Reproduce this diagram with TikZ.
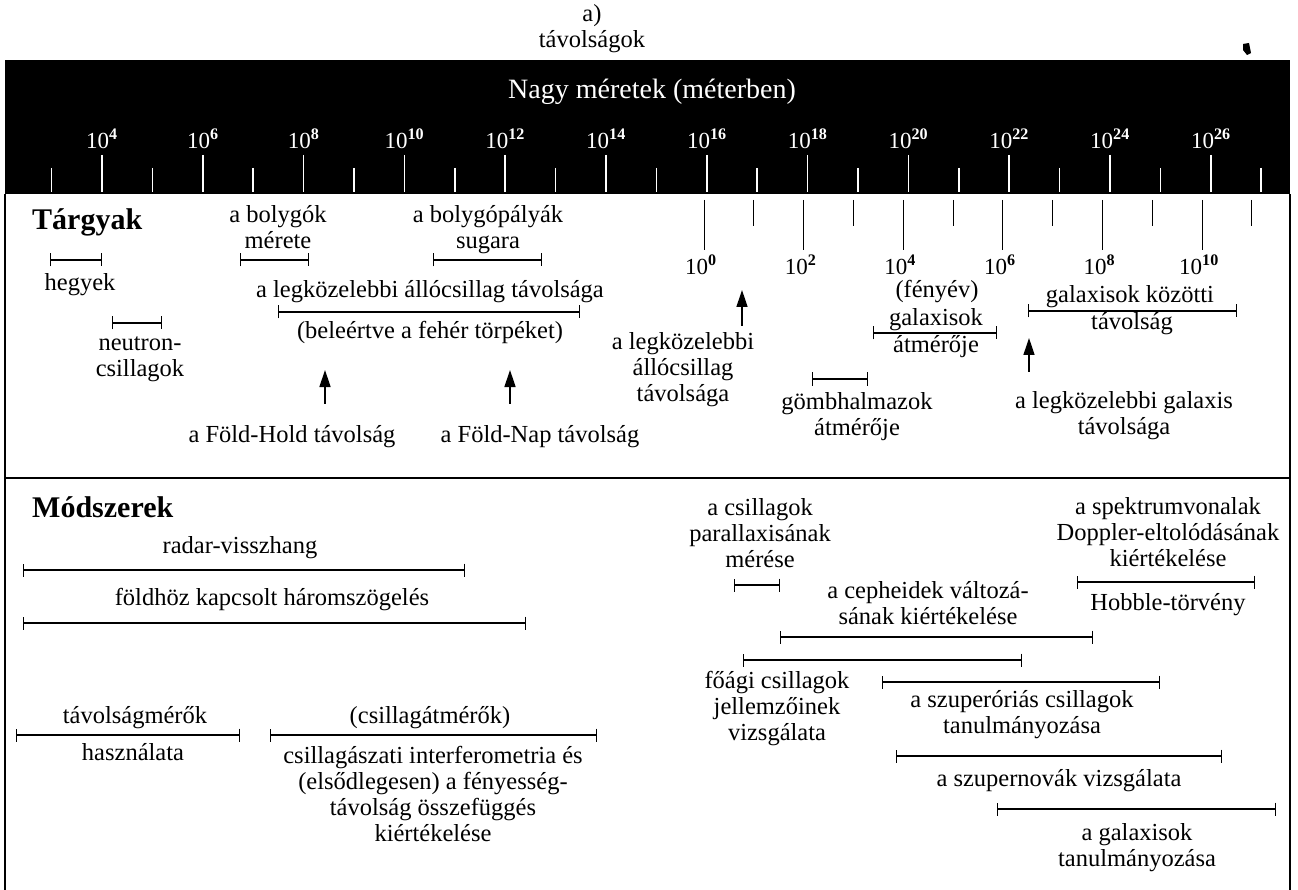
\documentclass[tikz,border=0pt]{standalone}
\usepackage{fontspec}
\setmainfont{Liberation Serif}
\usetikzlibrary{arrows.meta}

\newcommand{\txt}{\fontsize{24.5}{26}\selectfont}
\newcommand{\num}{\fontsize{23}{26}\selectfont}
\newcommand{\hd}{\fontsize{30}{32}\selectfont\bfseries}

\begin{document}
\begin{tikzpicture}[x=1pt,y=-1pt,
    lbl/.style={font=\txt, inner sep=0pt},
    rng/.style={{Bar[width=13pt]}-{Bar[width=13pt]}, line width=1.1pt},
    up/.style={-{Triangle[length=17pt,width=11pt]}, line width=1.4pt}]

    \useasboundingbox (0,0) rectangle (1298,890);

    \node[lbl] (T) at (592,29) {\begin{tabular}{c} a) \\ távolságok \end{tabular}};
    \fill (1243,44) -- (1249,43) -- (1251,53) -- (1247,55) -- (1243,50) -- cycle;

    \fill (5,60) rectangle (1290,194);
    \node[lbl, text=white, font=\fontsize{28}{30}\selectfont] (N) at (652,92) {Nagy méretek (méterben)};
    \foreach \e in {4,6,...,26} {
        \draw[white, line width=1.5pt] ({102+50.4*(\e-4)},155) -- ++(0,37);
        \node[lbl, text=white, font=\num] (M\e) at ({102+50.4*(\e-4)},139) {10\textsuperscript{\textbf{\e}}};
    }
    \foreach \e in {3,5,...,27}
        \draw[white, line width=1.5pt] ({102+50.4*(\e-4)},168) -- ++(0,24);

    \draw[line width=2pt] (5,194) -- (5,890) (1290,194) -- (1290,890);
    \draw[line width=1.5pt] (5,478) -- (1290,478);

    \foreach \n in {0,2,...,10} {
        \draw[line width=1pt] ({704+49.8*\n},200) -- ++(0,50);
        \node[lbl, font=\num] (L\n) at ({701+49.8*\n},265) {10\textsuperscript{\textbf{\n}}};
    }
    \foreach \n in {1,3,...,11}
        \draw[line width=1pt] ({704+49.8*\n},200) -- ++(0,26);
    \node[lbl] (ly) at (937,292) {\begin{tabular}{c}(fényév)\end{tabular}};

    \node[font=\hd, inner sep=0pt, anchor=west] (obj) at (32,222) {Tárgyak};

    \draw[rng] (50,260) -- (102,260);
    \node[lbl] (hegy) at (80,285) {\begin{tabular}{c}hegyek\end{tabular}};
    \draw[rng] (112,323) -- (162,323);
    \node[lbl] (neu) at (140,358) {\begin{tabular}{c}neutron-\\csillagok\end{tabular}};
    \node[lbl] (bolyg) at (278,230) {\begin{tabular}{c}a bolygók\\mérete\end{tabular}};
    \draw[rng] (240,260) -- (309,260);
    \node[lbl] (palya) at (488,230) {\begin{tabular}{c}a bolygópályák\\sugara\end{tabular}};
    \draw[rng] (433,260) -- (542,260);
    \node[lbl] (allo) at (430,292) {\begin{tabular}{c}a legközelebbi állócsillag távolsága\end{tabular}};
    \draw[rng] (278,312) -- (580,312);
    \node[lbl] (feher) at (430,333) {\begin{tabular}{c}(beleértve a fehér törpéket)\end{tabular}};

    \coordinate (hold) at (325,370);
    \node[lbl] (FH) at (292,437) {\begin{tabular}{c}a Föld-Hold távolság\end{tabular}};
    \draw[up] ([yshift=20pt]FH.north -| hold) -- (hold);
    \coordinate (nap) at (510,370);
    \node[lbl] (FN) at (540,437) {\begin{tabular}{c}a Föld-Nap távolság\end{tabular}};
    \draw[up] ([yshift=20pt]FN.north -| nap) -- (nap);
    \coordinate (csill) at (742,290);
    \node[lbl] (LC) at (683,370) {\begin{tabular}{c}a legközelebbi\\állócsillag\\távolsága\end{tabular}};
    \draw[up] ([yshift=5pt]LC.north -| csill) -- (csill);

    \draw[rng] (812,379) -- (868,379);
    \node[lbl] (gomb) at (857,417) {\begin{tabular}{c}gömbhalmazok\\átmérője\end{tabular}};
    \node[lbl] (gal1) at (936,320) {\begin{tabular}{c}galaxisok\end{tabular}};
    \draw[rng] (873,333) -- (997,333);
    \node[lbl] (gal2) at (936,347) {\begin{tabular}{c}átmérője\end{tabular}};
    \node[lbl] (koz1) at (1130,297) {\begin{tabular}{c}galaxisok közötti\end{tabular}};
    \draw[rng] (1028,311) -- (1237,311);
    \node[lbl] (koz2) at (1132,324) {\begin{tabular}{c}távolság\end{tabular}};
    \coordinate (galx) at (1029,338);
    \node[lbl] (LG) at (1124,416) {\begin{tabular}{c}a legközelebbi galaxis\\távolsága\end{tabular}};
    \draw[up] ([yshift=18pt]LG.north -| galx) -- (galx);

    \node[font=\hd, inner sep=0pt, anchor=west] (meth) at (32,507) {Módszerek};

    \node[lbl] (radar) at (240,548) {\begin{tabular}{c}radar-visszhang\end{tabular}};
    \draw[rng] (23,570) -- (465,570);
    \node[lbl] (harom) at (272,600) {\begin{tabular}{c}földhöz kapcsolt háromszögelés\end{tabular}};
    \draw[rng] (23,623) -- (526,623);

    \node[lbl] (tm1) at (135,718) {\begin{tabular}{c}távolságmérők\end{tabular}};
    \draw[rng] (16,735) -- (240,735);
    \node[lbl] (tm2) at (133,755) {\begin{tabular}{c}használata\end{tabular}};
    \node[lbl] (cs1) at (430,718) {\begin{tabular}{c}(csillagátmérők)\end{tabular}};
    \draw[rng] (270,735) -- (597,735);
    \node[lbl] (cs2) at (433,797) {\begin{tabular}{c}csillagászati interferometria és\\(elsődlegesen) a fényesség-\\távolság összefüggés\\kiértékelése\end{tabular}};

    \node[lbl] (par) at (760,536) {\begin{tabular}{c}a csillagok\\parallaxisának\\mérése\end{tabular}};
    \draw[rng] (734,585) -- (780,585);
    \node[lbl] (ceph) at (928,606) {\begin{tabular}{c}a cepheidek változá-\\sának kiértékelése\end{tabular}};
    \draw[rng] (780,637) -- (1093,637);
    \draw[rng] (743,660) -- (1022,660);
    \node[lbl] (fo) at (777,709) {\begin{tabular}{c}főági csillagok\\jellemzőinek\\vizsgálata\end{tabular}};
    \draw[rng] (882,682) -- (1160,682);
    \node[lbl] (szo) at (1022,715) {\begin{tabular}{c}a szuperóriás csillagok\\tanulmányozása\end{tabular}};
    \draw[rng] (896,756) -- (1222,756);
    \node[lbl] (szn) at (1059,781) {\begin{tabular}{c}a szupernovák vizsgálata\end{tabular}};
    \draw[rng] (997,809) -- (1276,809);
    \node[lbl] (gt) at (1137,848) {\begin{tabular}{c}a galaxisok\\tanulmányozása\end{tabular}};

    \node[lbl] (dop) at (1168,535) {\begin{tabular}{c}a spektrumvonalak\\Doppler-eltolódásának\\kiértékelése\end{tabular}};
    \draw[rng] (1077,582) -- (1255,582);
    \node[lbl] (hub) at (1168,605) {\begin{tabular}{c}Hobble-törvény\end{tabular}};

\end{tikzpicture}
\end{document}
